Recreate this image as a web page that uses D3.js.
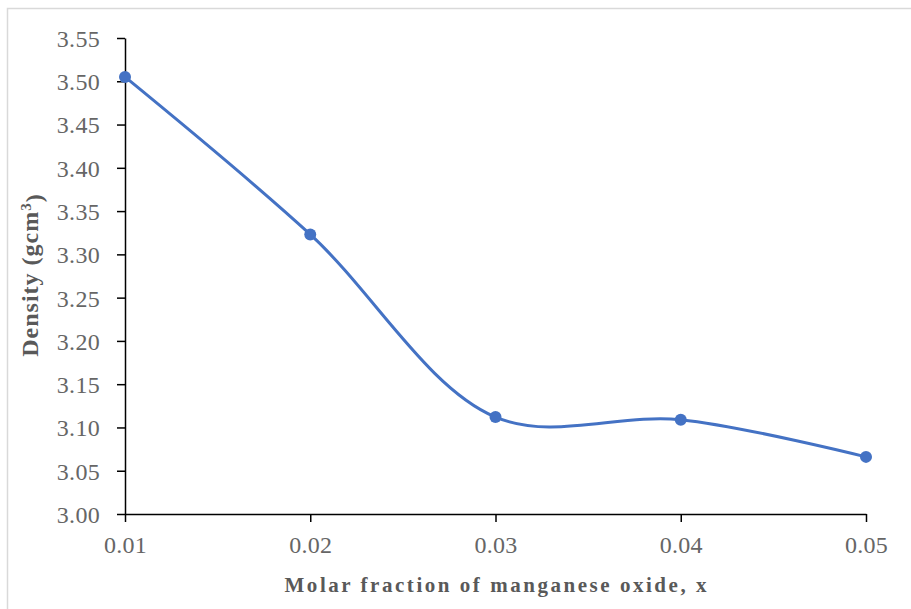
<!DOCTYPE html>
<html>
<head>
<meta charset="utf-8">
<script src="https://cdn.jsdelivr.net/npm/d3@7"></script>
<style>
  body { margin: 0; background: #fff; }
</style>
</head>
<body>
<svg id="chart"></svg>
<script>
const xValues = [0.01, 0.02, 0.03, 0.04, 0.05];
const density = [3.505, 3.323, 3.112, 3.109, 3.066];
const xTicks = [0.01, 0.02, 0.03, 0.04, 0.05];
const yTicks = [3.00, 3.05, 3.10, 3.15, 3.20, 3.25, 3.30, 3.35, 3.40, 3.45, 3.50, 3.55];

const serif = '"Liberation Serif", "Times New Roman", serif';
const W = 911, H = 609;
const margin = { top: 38, right: 45, bottom: 95, left: 125 };
const width = W - margin.left - margin.right;
const height = H - margin.top - margin.bottom;

const root = d3.select("#chart").attr("width", W).attr("height", H);

// Chart area border, as in the pasted Excel chart.
root.append("rect")
    .attr("x", 7.5).attr("y", 8.5)
    .attr("width", W).attr("height", H)
    .attr("fill", "none")
    .attr("stroke", "#d9d9d9")
    .attr("stroke-width", 1.5);

const svg = root.append("g")
    .attr("transform", `translate(${margin.left},${margin.top})`);

const x = d3.scaleLinear().domain([0.01, 0.05]).range([0, width]);
const y = d3.scaleLinear().domain([3.00, 3.55]).range([height, 0]);

function styleTicks(sel) {
    sel.style("font-family", serif)
        .style("font-size", "24px")
        .style("letter-spacing", "0.3px")
        .style("fill", "#666");
}

// Y axis
const yAxis = svg.append("g")
    .call(d3.axisLeft(y).tickValues(yTicks).tickSize(8).tickSizeOuter(0).tickFormat(d3.format(".2f")));
yAxis.select(".domain").attr("stroke", "#000").attr("stroke-width", 1.5);
yAxis.selectAll(".tick line").attr("stroke", "#000").attr("stroke-width", 1.5);
yAxis.selectAll(".tick text").attr("x", -25).attr("dy", "0.35em").call(styleTicks);

// X axis
const xAxis = svg.append("g")
    .attr("transform", `translate(0,${height})`)
    .call(d3.axisBottom(x).tickValues(xTicks).tickSize(8).tickSizeOuter(0).tickFormat(d3.format(".2f")));
xAxis.select(".domain").attr("stroke", "#000").attr("stroke-width", 1.5);
xAxis.selectAll(".tick line").attr("stroke", "#000").attr("stroke-width", 1.5);
xAxis.selectAll(".tick text").attr("y", 22).attr("dy", "0.71em").call(styleTicks);

// Smoothed line
const line = d3.line()
    .x((d, i) => x(xValues[i]))
    .y(d => y(d))
    .curve(d3.curveCatmullRom.alpha(0.5));
svg.append("path")
    .datum(density)
    .attr("fill", "none")
    .attr("stroke", "#4472c4")
    .attr("stroke-width", 3)
    .attr("d", line);

svg.selectAll(".pt")
    .data(density)
    .enter().append("circle")
    .attr("class", "pt")
    .attr("cx", (d, i) => x(xValues[i]))
    .attr("cy", d => y(d))
    .attr("r", 6)
    .attr("fill", "#4472c4");

// Axis titles
svg.append("text")
    .style("font-family", serif).style("font-size", "21px").style("font-weight", "bold").style("fill", "#595959")
    .attr("x", (x(0.01) + x(0.05)) / 2)
    .attr("y", height + 78)
    .attr("text-anchor", "middle")
    .attr("textLength", 422)
    .attr("lengthAdjust", "spacing")
    .text("Molar fraction of manganese oxide, x");

const yTitle = svg.append("text")
    .style("font-family", serif).style("font-size", "24px").style("font-weight", "bold").style("fill", "#595959")
    .style("letter-spacing", "1px")
    .attr("transform", `translate(-87,${height / 2 - 1}) rotate(-90)`)
    .attr("text-anchor", "middle");
yTitle.append("tspan").text("Density (gcm");
yTitle.append("tspan").attr("dy", "-0.45em").style("font-size", "15px").text("3");
yTitle.append("tspan").attr("dy", "0.45em").text(")");
</script>
</body>
</html>
